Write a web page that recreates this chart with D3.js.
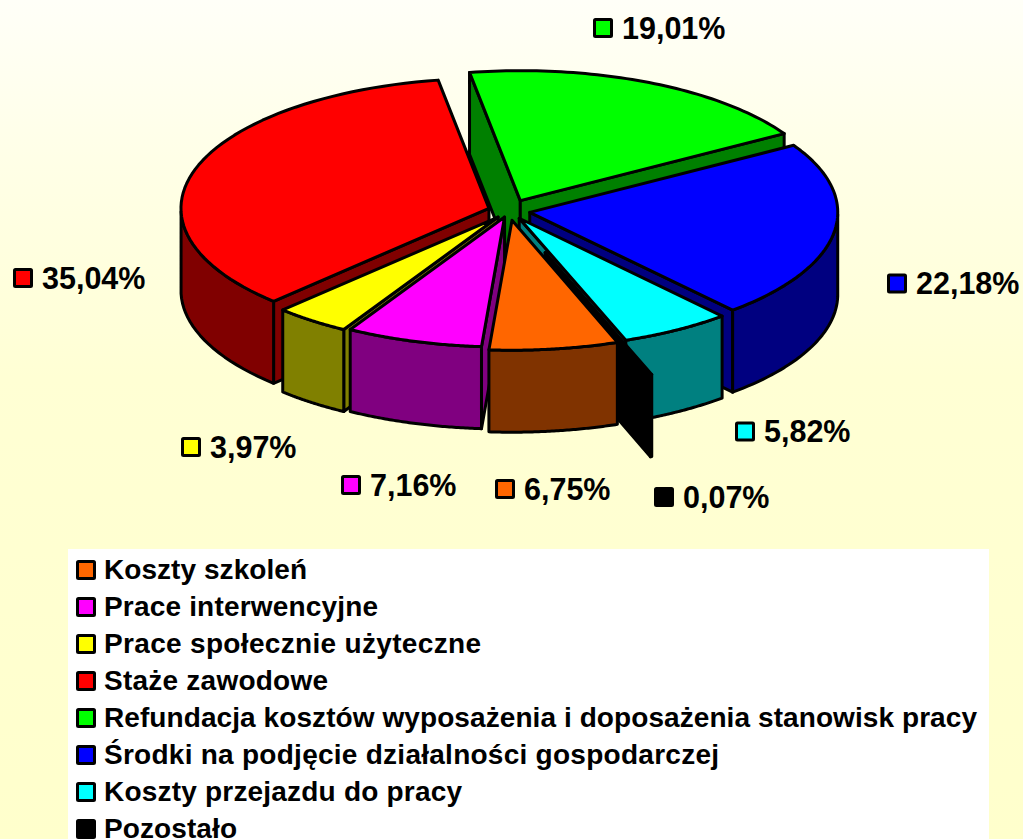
<!DOCTYPE html>
<html><head><meta charset="utf-8">
<script src="https://cdnjs.cloudflare.com/ajax/libs/d3/7.8.5/d3.min.js"></script>
<style>html,body{margin:0;padding:0;background:#fff}svg{display:block}text{font-family:"Liberation Sans",Arial,sans-serif;font-weight:bold;fill:#000}</style>
</head><body><svg id="c" width="1023" height="839"></svg>
<script>
const categories=["Koszty szkoleń","Prace interwencyjne","Prace społecznie użyteczne","Staże zawodowe","Refundacja kosztów wyposażenia i doposażenia stanowisk pracy","Środki na podjęcie działalności gospodarczej","Koszty przejazdu do pracy","Pozostało"];
const values=[6.75,7.16,3.97,35.04,19.01,22.18,5.82,0.07];
const valueLabels=["6,75%","7,16%","3,97%","35,04%","19,01%","22,18%","5,82%","0,07%"];
const topColors=["#FF6600","#FF00FF","#FFFF00","#FF0000","#00FF00","#0000FF","#00FFFF","#000000"];
const sideColors=["#803300","#800080","#808000","#800000","#008000","#000080","#008080","#000000"];
const explode=[22,15,18,21,27,21,20,105];
const paintOrder=[4,5,3,6,7,2,1,0];
const labelAnchors=[[505,489],[351,485],[191,447],[23,278],[603,28],[897,283.5],[745,431.5],[664,497]];
const legendTextWidths=[203,274,377,224,873,615,358,133];
const W=1023,H=839,cx=509,cy=211,rx=308,ry=130,depth=82,startAngle=160*Math.PI/180;

const svg=d3.select("#c");
const defs=svg.append("defs");
const grad=defs.append("linearGradient").attr("id","bg").attr("x1",0).attr("y1",0).attr("x2",0).attr("y2",1);
[[0,"#FFFFF8"],[0.2,"#FFFFE6"],[0.45,"#FFFFD4"],[1,"#FFFFCC"]].forEach(s=>grad.append("stop").attr("offset",s[0]).attr("stop-color",s[1]));
svg.append("rect").attr("width",W).attr("height",H).attr("fill","url(#bg)");

const arcs=d3.pie().sort(null).value(d=>d).startAngle(startAngle).endAngle(startAngle+2*Math.PI)(values);
const px=d3.scaleLinear().domain([-1,1]).range([-rx,rx]);
const py=d3.scaleLinear().domain([-1,1]).range([-ry,ry]);
const pt=a=>[px(Math.sin(a)),py(-Math.cos(a))];
const line=d3.line();
const g=svg.append("g");
paintOrder.forEach(i=>{
  const d=arcs[i],a0=d.startAngle,a1=d.endAngle,mid=(a0+a1)/2;
  const e=explode[i];
  const ox=cx+e*Math.sin(mid), oy=cy-e*(ry/rx)*Math.cos(mid);
  const s=g.append("g").attr("transform",`translate(${ox},${oy})`);
  const style=(sel,fill)=>sel.attr("fill",fill).attr("stroke","#000").attr("stroke-width",3).attr("stroke-linejoin","round");
  const wall=(p,q,fill)=>style(s.append("path").attr("d",line([p,q,[q[0],q[1]+depth],[p[0],p[1]+depth]])+"Z"),fill);
  // radial side walls, drawn only when they face the viewer
  if(Math.sin(a0)<0) wall([0,0],pt(a0),sideColors[i]);
  if(Math.sin(a1)>0) wall([0,0],pt(a1),sideColors[i]);
  // outer rim, front half only
  const steps=d3.range(0,61).map(k=>a0+(a1-a0)*k/60).filter(a=>Math.cos(a)<=0);
  if(steps.length>1){
    const top=steps.map(pt);
    const bot=top.map(p=>[p[0],p[1]+depth]).reverse();
    style(s.append("path").attr("d",line(top.concat(bot))+"Z"),sideColors[i]);
  }
  const rim=d3.range(0,61).map(k=>pt(a0+(a1-a0)*k/60));
  style(s.append("path").attr("d",line([[0,0]].concat(rim))+"Z"),topColors[i]);
});

const mark=(sel,x,y,c,sz)=>sel.append("rect").attr("x",x-sz/2+1.5).attr("y",y-sz/2+1.5).attr("width",sz-3).attr("height",sz-3).attr("fill",c).attr("stroke","#000").attr("stroke-width",3).attr("rx",1);
const labels=svg.append("g");
valueLabels.forEach((t,i)=>{
  const [x,y]=labelAnchors[i];
  mark(labels,x,y,topColors[i],20);
  labels.append("text").attr("x",x+19).attr("y",y+10.5).attr("font-size",30.5).text(t);
});

svg.append("rect").attr("x",68).attr("y",549).attr("width",921).attr("height",290).attr("fill","#fff");
const ly=d3.scalePoint().domain(categories).range([570,829]);
const leg=svg.append("g");
categories.forEach((c,i)=>{
  mark(leg,86,ly(c),topColors[i],20);
  leg.append("text").attr("x",104).attr("y",ly(c)+9).attr("font-size",28).attr("textLength",legendTextWidths[i]).attr("lengthAdjust","spacing").text(c);
});
</script></body></html>
